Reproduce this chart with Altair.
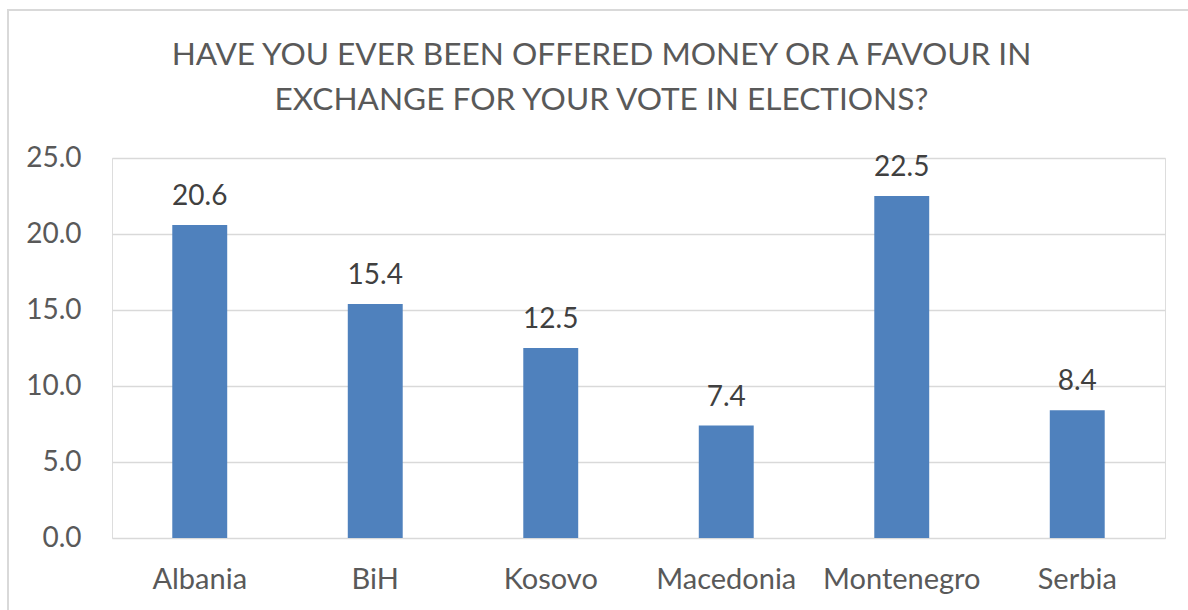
import altair as alt
import pandas as pd

countries = ["Albania", "BiH", "Kosovo", "Macedonia", "Montenegro", "Serbia"]
values = [20.6, 15.4, 12.5, 7.4, 22.5, 8.4]
title_lines = ["HAVE YOU EVER BEEN OFFERED MONEY OR A FAVOUR IN",
               "EXCHANGE FOR YOUR VOTE IN ELECTIONS?"]
y_ticks = [0, 5, 10, 15, 20, 25]

df = pd.DataFrame({"country": countries, "value": values})

FONT = "Lato"

x_enc = alt.X("country:N", sort=countries, title=None,
              scale=alt.Scale(paddingInner=0.687, paddingOuter=0.3435),
              axis=alt.Axis(labelAngle=0, domain=False, ticks=False, tickSize=0,
                            labelPadding=50, labelBaseline="alphabetic",
                            labelFont=FONT, labelFontSize=29, labelColor="#595959",
                            grid=False))
y_enc = alt.Y("value:Q", title=None,
              scale=alt.Scale(domain=[0, 25], nice=False),
              axis=alt.Axis(values=y_ticks, format=".1f", domain=False, ticks=False,
                            labelPadding=31, labelFont=FONT, labelFontSize=28,
                            labelColor="#595959", gridColor="#d9d9d9", gridWidth=1.5))

bars = alt.Chart(df).mark_bar(color="#4f81bd").encode(x=x_enc, y=y_enc)
labels = alt.Chart(df).mark_text(font=FONT, fontSize=28, color="#404040",
                                 baseline="alphabetic", dy=-20).encode(
    x=alt.X("country:N", sort=countries),
    y="value:Q",
    text=alt.Text("value:Q", format=".1f"))

frame = alt.Chart(df).mark_rect(fill=None, stroke="#d9d9d9", strokeWidth=1.5).encode(
    x=alt.value(-104), y=alt.value(-148), x2=alt.value(1150), y2=alt.value(480))

chart = alt.layer(frame, bars, labels).properties(
    width=1053, height=380,
    autosize="none",
    padding={"left": 112, "top": 158, "right": 23, "bottom": 72},
    title=alt.Title(title_lines, font=FONT, fontSize=31.6, fontWeight="normal",
                    color="#595959", anchor="middle", lineHeight=45,
                    dx=-37, offset=-107),
).configure_view(stroke=None).configure(background="white")

chart.save("out.html", embed_options={"renderer": "svg", "actions": False})
